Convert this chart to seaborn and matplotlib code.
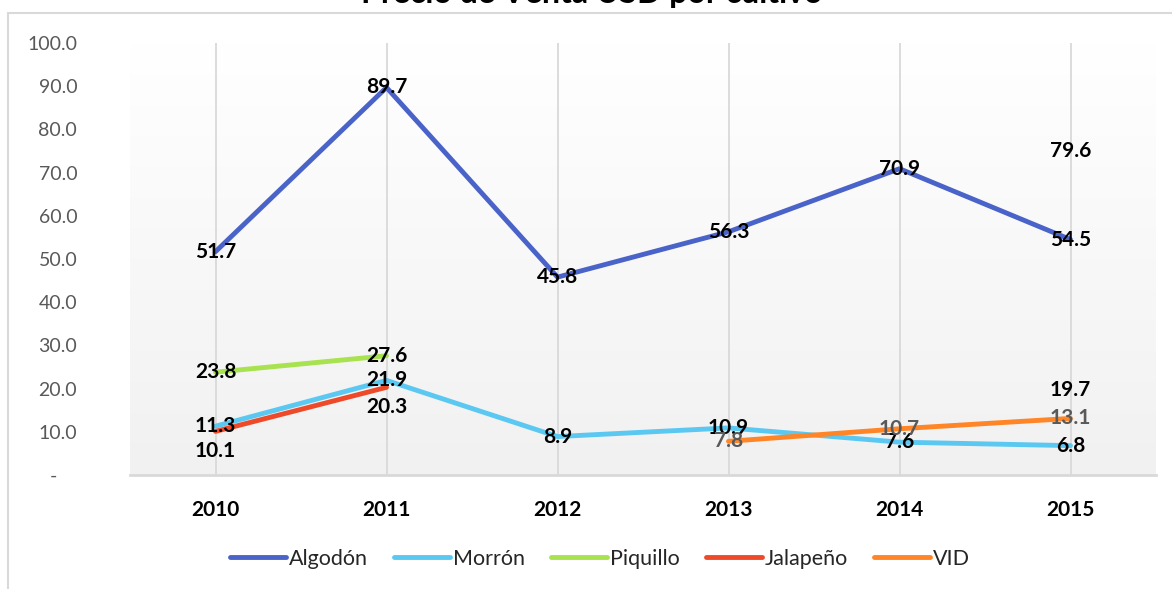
import numpy as np
import pandas as pd
import matplotlib
matplotlib.use("Agg")
import matplotlib.pyplot as plt
from matplotlib.patches import Rectangle
import seaborn as sns

years = [2010, 2011, 2012, 2013, 2014, 2015]
algodon = [51.7, 89.7, 45.8, 56.3, 70.9, 54.5]
morron = [11.3, 21.9, 8.9, 10.9, 7.6, 6.8]
piquillo = [23.8, 27.6, np.nan, np.nan, np.nan, 19.7]
jalapeno = [10.1, 20.3, np.nan, np.nan, np.nan, 79.6]
vid = [np.nan, np.nan, np.nan, 7.8, 10.7, 13.1]
series_names = ["Algodón", "Morrón", "Piquillo", "Jalapeño", "VID"]
yticks = [0, 10, 20, 30, 40, 50, 60, 70, 80, 90, 100]

colors = ["#4A63C8", "#5BC8F2", "#A8E24E", "#EE4A2A", "#FF8527"]
label_colors = ["black", "black", "black", "black", "#595959"]
label_dy = {"Jalapeño": -14}


def main():
    rows = []
    for name, vals in zip(series_names, [algodon, morron, piquillo, jalapeno, vid]):
        run = 0
        prev_nan = True
        for y, v in zip(years, vals):
            if np.isnan(v):
                prev_nan = True
                continue
            if prev_nan:
                run += 1
            prev_nan = False
            rows.append({"year": y, "valor": v, "cultivo": name, "tramo": f"{name}-{run}"})
    df = pd.DataFrame(rows)

    sns.set_theme(style="white")
    plt.rcParams["font.family"] = ["Lato", "DejaVu Sans"]

    fig = plt.figure(figsize=(11.72, 5.89), dpi=100)
    ax = fig.add_axes([130 / 1172, 114 / 589, 1026 / 1172, 432 / 589])

    # gradient background of the plot area (white top -> light grey bottom)
    cmap = matplotlib.colors.LinearSegmentedColormap.from_list("g", ["#F1F1F1", "#FFFFFF"])
    ax.imshow(np.linspace(0, 1, 256).reshape(-1, 1), extent=(2009.5, 2015.5, 0, 100),
              aspect="auto", cmap=cmap, origin="lower", zorder=0)

    for y in years:
        ax.axvline(y, color="#D9D9D9", lw=1.3, zorder=1)

    sns.lineplot(data=df, x="year", y="valor", hue="cultivo", units="tramo",
                 estimator=None, hue_order=series_names,
                 palette=dict(zip(series_names, colors)), lw=3.5, ax=ax, zorder=3)

    for name, vals, lc in zip(series_names, [algodon, morron, piquillo, jalapeno, vid], label_colors):
        for y, v in zip(years, vals):
            if np.isnan(v):
                continue
            ax.annotate(f"{v:.1f}", (y, v), xytext=(0, label_dy.get(name, 0)),
                        textcoords="offset points", ha="center", va="center",
                        fontsize=15, fontweight="bold", color=lc, zorder=5)

    ax.set_xlim(2009.5, 2015.5)
    ax.set_ylim(0, 100)
    ax.set_xticks(years)
    ax.set_xticklabels([str(y) for y in years], fontsize=15, fontweight="bold", color="black")
    ax.set_yticks(yticks)
    ax.set_yticklabels(["-    "] + [f"{t:.1f}" for t in yticks[1:]], fontsize=14, color="#595959")
    ax.tick_params(axis="x", length=0, pad=18)
    ax.tick_params(axis="y", length=0, pad=38)
    ax.set_xlabel("")
    ax.set_ylabel("")
    for s in ["top", "right", "left"]:
        ax.spines[s].set_visible(False)
    ax.spines["bottom"].set_color("#D9D9D9")
    ax.spines["bottom"].set_linewidth(2)
    ax.grid(False)

    sns.move_legend(ax, "center", bbox_to_anchor=((600 - 130) / 1026, (30 - 114) / 432),
                    ncol=5, frameon=False, title=None,
                    fontsize=15.5, handlelength=2.6, columnspacing=1.2, handletextpad=0.15)

    # chart border
    fig.patches.append(Rectangle((8 / 1172, -0.1), 1.2, 1 - 13 / 589 + 0.1,
                                 transform=fig.transFigure, fill=False,
                                 edgecolor="#D9D9D9", lw=1.5))
    fig.text(592 / 1172, 1 - 3 / 589, "Precio de Venta USD por cultivo", ha="center",
             va="baseline", fontsize=23, fontweight="bold", color="black")

    plt.savefig("out.png", dpi=100)
    plt.close()


if __name__ == "__main__":
    main()
